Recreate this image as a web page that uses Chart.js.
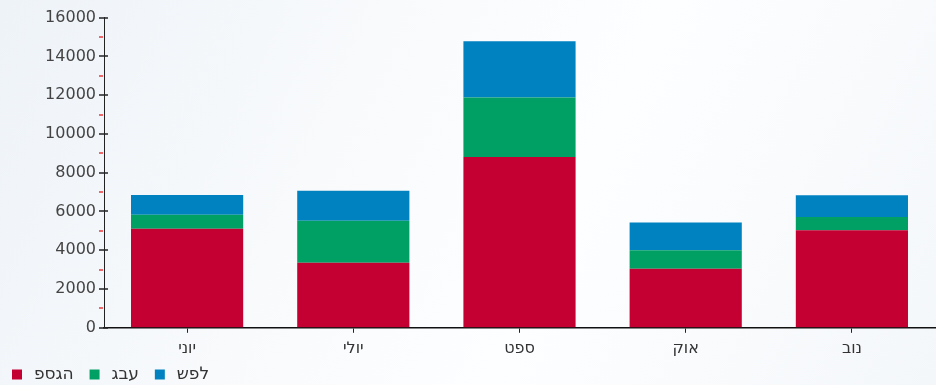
<!DOCTYPE html>
<html>
<head>
<meta charset="utf-8">
<script src="https://cdn.jsdelivr.net/npm/chart.js@4.4.1/dist/chart.umd.min.js"></script>
<style>
html, body { margin:0; padding:0; }
body {
    width:936px; height:385px; overflow:hidden;
    background: linear-gradient(115deg, #eef3f8 0%, #f8fafc 35%, #fdfeff 60%, #f4f7fa 100%);
}
#contenedor { position:relative; width:936px; height:385px; }
</style>
</head>
<body>
<div id="contenedor"><canvas id="grafica"></canvas></div>
<script>
// datos
var meses = ['יוני', 'יולי', 'ספט', 'אוק', 'נוב'];
var pisga = [5110, 3360, 8810, 3050, 5030];
var geva = [720, 2160, 3070, 950, 680];
var shefel = [1020, 1550, 2900, 1430, 1125];
var ticksY = [0, 2000, 4000, 6000, 8000, 10000, 12000, 14000, 16000];

Chart.defaults.font.family = 'DejaVu Sans';
Chart.defaults.color = '#444';

// marcas del eje y (mayores cruzadas, menores rojas)
const marcasEje = {
    id: 'marcasEje',
    afterDraw(chart) {
        var y = chart.scales.y;
        var x0 = chart.chartArea.left;
        var ctx = chart.ctx;
        ctx.save();
        ctx.lineWidth = 1.5;
        for (var v = 0; v <= 16000; v += 1000) {
            var py = Math.round(y.getPixelForValue(v));
            ctx.beginPath();
            if (v % 2000 == 0) {
                ctx.strokeStyle = '#222';
                ctx.moveTo(x0 - 5, py);
                ctx.lineTo(x0 + 4, py);
            } else {
                ctx.strokeStyle = '#e83a3a';
                ctx.moveTo(x0 - 5, py);
                ctx.lineTo(x0 - 1, py);
            }
            ctx.stroke();
        }
        ctx.restore();
    }
};

var data = {
    labels: meses,
    datasets: [{
        label: 'פסגה',
        data: pisga,
        backgroundColor: '#c40032',
        borderWidth: 0
    }, {
        label: 'גבע',
        data: geva,
        backgroundColor: '#00a064',
        borderWidth: 0
    }, {
        label: 'שפל',
        data: shefel,
        backgroundColor: '#0082c0',
        borderWidth: 0
    }]
};

var config = {
    type: 'bar',
    data,
    options: {
        responsive: true,
        maintainAspectRatio: false,
        animation: false,
        layout: { padding: { top: 7, right: 1, left: 10, bottom: -8 } },
        datasets: { bar: { categoryPercentage: 0.675, barPercentage: 1 } },
        scales: {
            x: {
                stacked: true,
                grid: { display: true, drawOnChartArea: false, offset: false, color: '#222', tickLength: 5 },
                border: { display: true, color: '#111', width: 1.5 },
                ticks: { font: { size: 16 }, color: '#333', padding: 6 }
            },
            y: {
                stacked: true,
                min: 0,
                max: 16000,
                afterBuildTicks: function(scale) {
                    scale.ticks = ticksY.map(function(v) { return { value: v }; });
                },
                afterFit: function(scale) { scale.width = 94; },
                grid: { display: true, drawOnChartArea: false, drawTicks: false },
                border: { display: true, color: '#222', width: 1 },
                ticks: {
                    font: { size: 16 },
                    color: '#444',
                    padding: 8,
                    callback: function(value) { return String(value); }
                }
            }
        },
        plugins: {
            legend: {
                display: true,
                position: 'bottom',
                align: 'start',
                labels: {
                    boxWidth: 10,
                    boxHeight: 10,
                    padding: 2,
                    color: '#333',
                    font: { size: 17 },
                    // el original muestra las letras en orden de izquierda a derecha
                    generateLabels: function(chart) {
                        var items = Chart.defaults.plugins.legend.labels.generateLabels(chart);
                        items.forEach(function(it) {
                            it.text = '\u2009' + Array.from(it.text).reverse().join('') + '\u2002 ';
                        });
                        return items;
                    }
                }
            },
            tooltip: { enabled: false }
        }
    },
    plugins: [marcasEje]
};

var myChart = new Chart(document.getElementById('grafica'), config);
</script>
</body>
</html>
